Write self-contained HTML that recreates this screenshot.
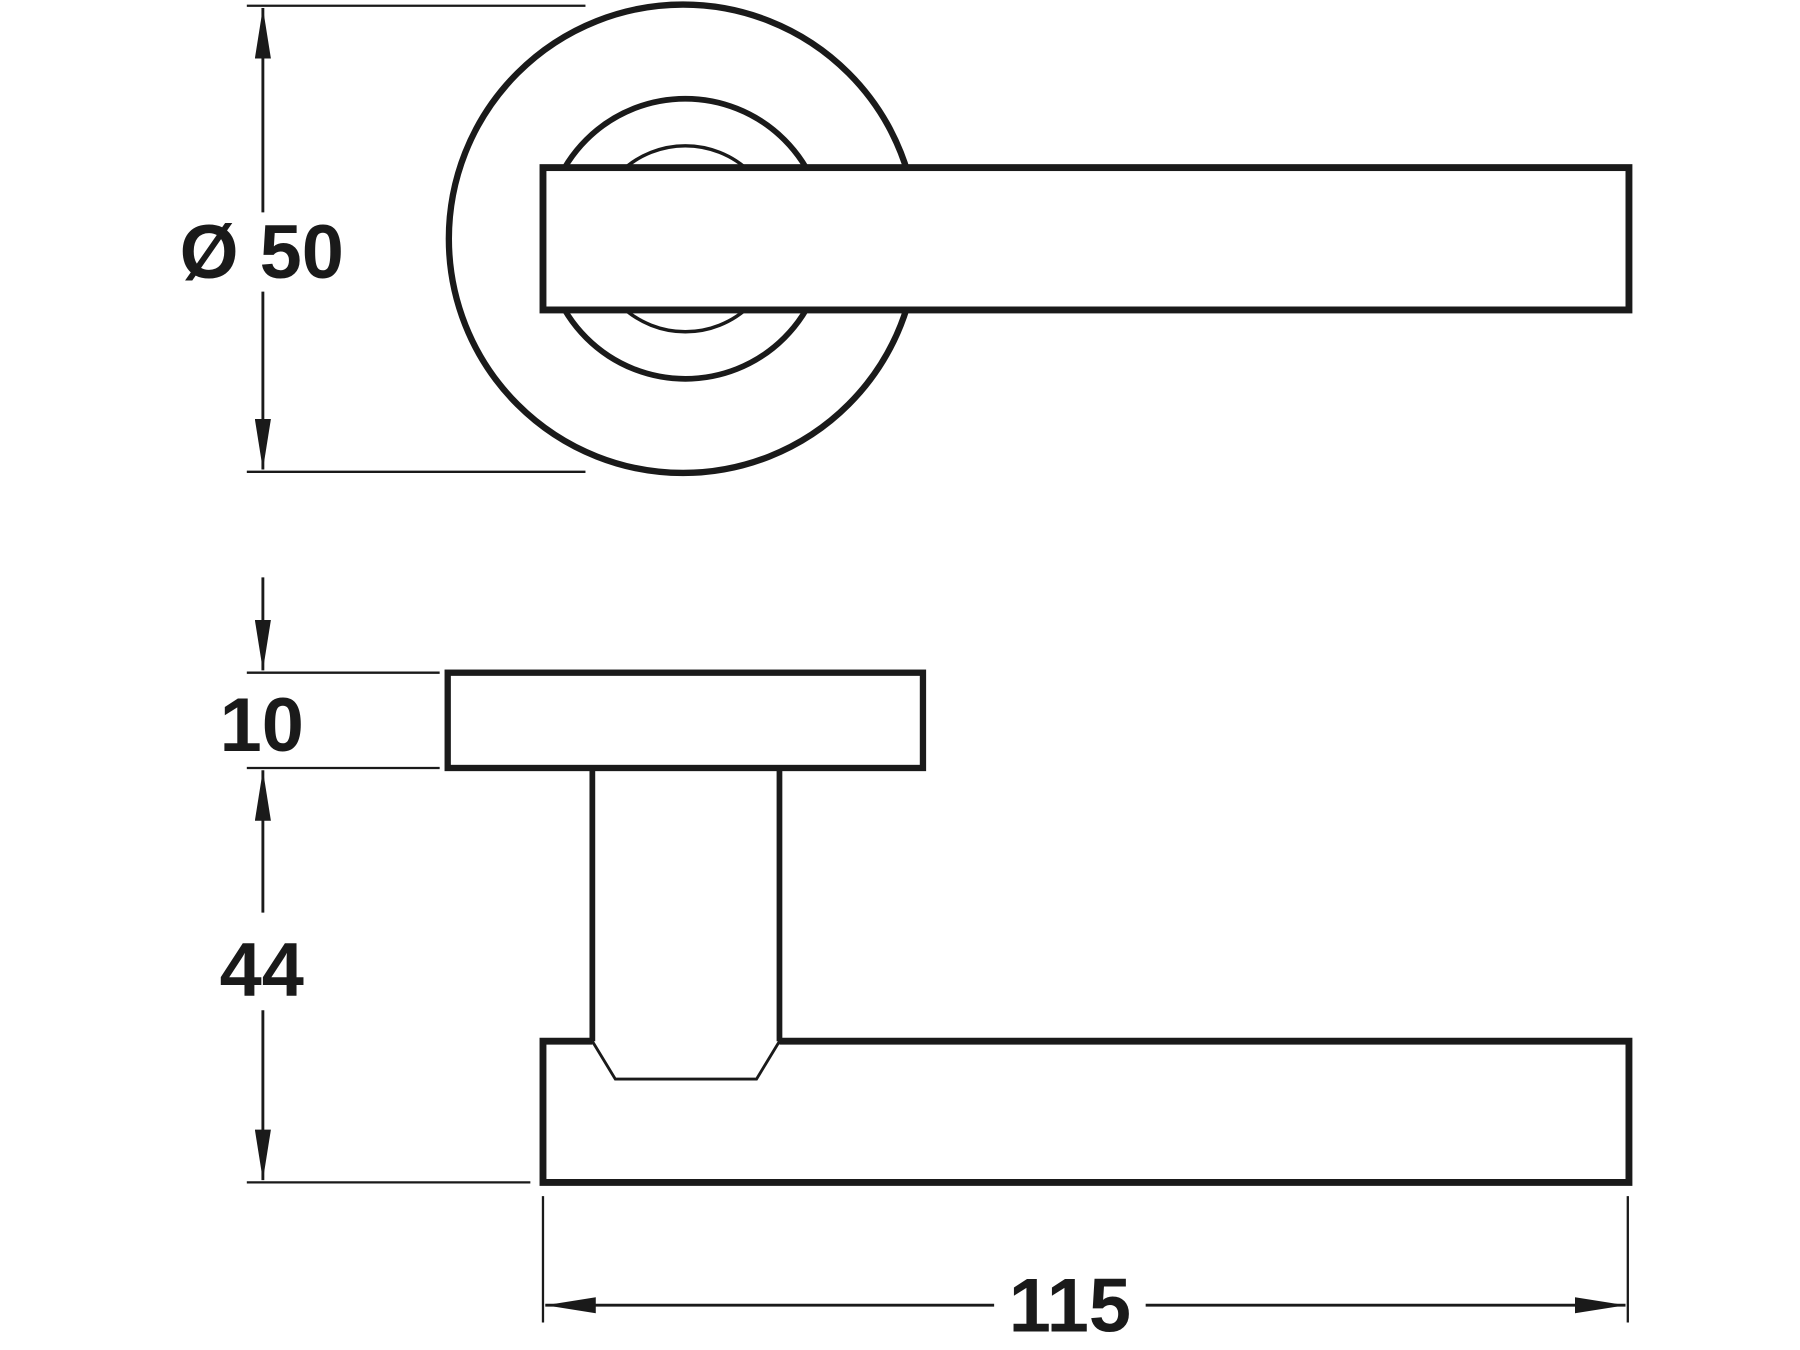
<!DOCTYPE html>
<html><head><meta charset="utf-8"><style>html,body{margin:0;padding:0;background:#fff}svg{display:block}</style></head>
<body>
<svg width="1800" height="1350" viewBox="0 0 1568 1176" preserveAspectRatio="none" xmlns="http://www.w3.org/2000/svg">
<defs>
<marker id="a" viewBox="0 0 44 14" refX="44" refY="7" markerWidth="44" markerHeight="14" markerUnits="userSpaceOnUse" orient="auto"><path d="M0,0 L44,7 L0,14 Z" fill="#1a1a1a"/></marker>
</defs>
<g fill="none" stroke="#1a1a1a" stroke-linejoin="miter">
<circle cx="595" cy="208" r="204" stroke-width="5.5"/>
<circle cx="597" cy="208" r="122" stroke-width="5"/>
<circle cx="597" cy="208" r="81" stroke-width="3"/>
<rect x="473" y="146" width="946" height="124" fill="#fff" stroke-width="6"/>
<rect x="390" y="586" width="414" height="83" fill="#fff" stroke-width="5.5"/>
<path d="M516 669 V907 M679 669 V907" stroke-width="5"/>
<path d="M516 907 H473 V1030 H1419 V907 H679" stroke-width="6"/>
<path d="M516 907 L536 940 H659 L679 907" stroke-width="2.5"/>
<g stroke-width="2">
<path d="M215 5 H510 M215 411 H510"/>
<path d="M215 586 H383 M215 669 H383 M215 1030 H462"/>
<path d="M473 1042 V1152 M1418 1042 V1152"/>
</g>
<g stroke-width="2.5">
<line x1="229" y1="185" x2="229" y2="7" marker-end="url(#a)"/>
<line x1="229" y1="254" x2="229" y2="409" marker-end="url(#a)"/>
<line x1="229" y1="503" x2="229" y2="584" marker-end="url(#a)"/>
<line x1="229" y1="795" x2="229" y2="671" marker-end="url(#a)"/>
<line x1="229" y1="880" x2="229" y2="1028" marker-end="url(#a)"/>
<line x1="866" y1="1137" x2="475" y2="1137" marker-end="url(#a)"/>
<line x1="998" y1="1137" x2="1416" y2="1137" marker-end="url(#a)"/>
</g>
</g>
<g font-family="Liberation Sans, Arial, sans-serif" font-weight="bold" font-size="66" fill="#1a1a1a" text-anchor="middle">
<text x="228" y="242">Ø 50</text>
<text x="228" y="654">10</text>
<text x="228" y="867">44</text>
<text x="932" y="1160">115</text>
</g>
</svg>
</body></html>
